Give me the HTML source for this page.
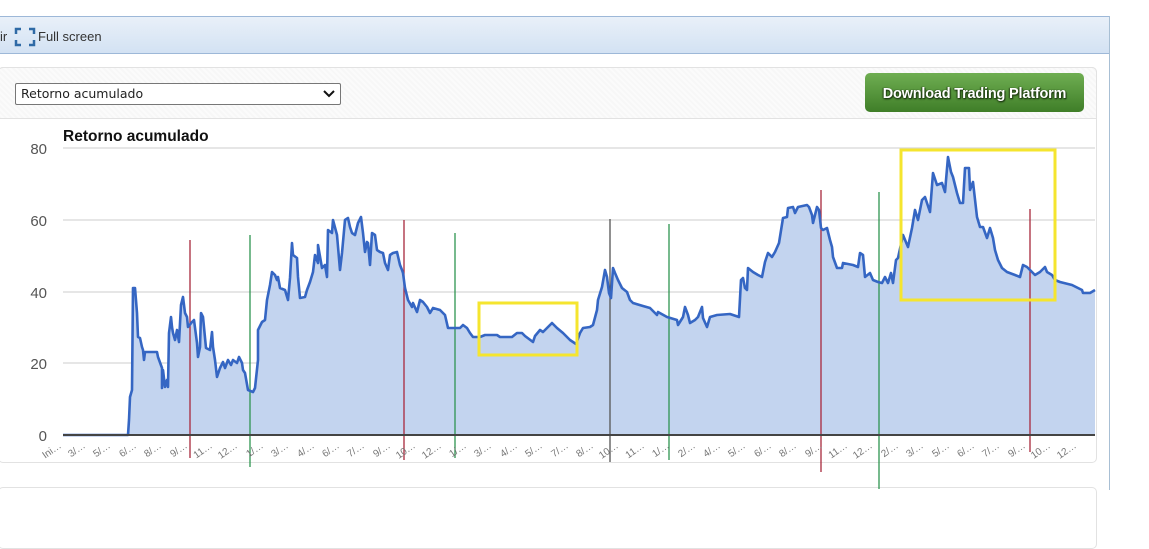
<!DOCTYPE html>
<html><head><meta charset="utf-8"><style>
html,body{margin:0;padding:0;background:#fff;width:1149px;height:527px;overflow:hidden;font-family:"Liberation Sans",sans-serif}
.abs{position:absolute}
#bar{left:-2px;top:16px;width:1110px;height:36px;border:1px solid #9db8d8;background:linear-gradient(#e9f0f9,#d3e2f3)}
#rline{left:1109px;top:16px;width:1px;height:474px;background:#a8bfd4}
#panel{left:-2px;top:67px;width:1097px;height:394px;border:1px solid #e2e2e2;border-radius:5px;background:#fff}
#phead{left:-2px;top:67px;width:1097px;height:50px;border:1px solid #e2e2e2;border-radius:5px 5px 0 0;background:repeating-linear-gradient(45deg,#f7f7f7 0 2px,#fbfbfb 2px 4px)}
#panel2{left:-2px;top:487px;width:1097px;height:60px;border:1px solid #e2e2e2;border-radius:5px;background:#fff}
#sel{left:15px;top:83px;border:1px solid #777;border-radius:2px;background:#fff;font-family:"DejaVu Sans",sans-serif;font-size:12.5px;color:#222;line-height:20px;padding-left:5px;box-sizing:border-box;width:326px;height:22px}
#btn{left:865px;top:73px;width:219px;height:39px;border-radius:5px;background:linear-gradient(#6fae52,#3f7e28);color:#fff;font-weight:bold;font-size:14.5px;line-height:42px;text-align:center;text-shadow:1px 1px 1px #1f3d12,-1px 0 1px #2a4d18,0 1px 2px #1a3310;letter-spacing:-0.2px}
</style></head><body>
<div id="bar" class="abs"></div>
<div id="rline" class="abs"></div>
<div class="abs" style="left:0;top:29px;font-size:13px;color:#333">ir</div>
<svg class="abs" style="left:14px;top:26px" width="22" height="22" viewBox="0 0 22 22">
<path d="M2 8V3h5M15 3h5v5M20 14v5h-5M7 19H2v-5" fill="none" stroke="#2f6aa6" stroke-width="2.5"/>
</svg>
<div class="abs" style="left:38px;top:29px;font-size:13px;color:#333">Full screen</div>
<div id="panel" class="abs"></div>
<div id="phead" class="abs"></div>
<div id="panel2" class="abs"></div>
<div id="sel" class="abs">Retorno acumulado</div>
<svg class="abs" style="left:322px;top:88px" width="14" height="12" viewBox="0 0 14 12"><path d="M2 3l5 5 5-5" fill="none" stroke="#111" stroke-width="2"/></svg>
<div id="btn" class="abs">Download Trading Platform</div>

<svg class="abs" style="left:0;top:0" width="1149" height="527" viewBox="0 0 1149 527">
<text x="63" y="141" font-size="15.5" font-weight="bold" fill="#111" font-family="Liberation Sans">Retorno acumulado</text>
<g stroke="#d6d6d6" stroke-width="1.3">
<line x1="63" y1="148" x2="1095" y2="148"/>
<line x1="63" y1="220" x2="1095" y2="220"/>
<line x1="63" y1="292" x2="1095" y2="292"/>
<line x1="63" y1="363" x2="1095" y2="363"/>
</g>
<g font-size="15" fill="#555" text-anchor="end" font-family="Liberation Sans">
<text x="47" y="154">80</text>
<text x="47" y="226">60</text>
<text x="47" y="298">40</text>
<text x="47" y="369">20</text>
<text x="47" y="441">0</text>
</g>
<polygon fill="#c3d4ef" points="63,435 128,435 129,420 130,397 132,390 133,288 135,288 137,313 138,337 140,338 142,347 143,350 144,360 145,352 147,352 157,352 158,357 162,368 162,388 163,370 165,387 167,380 168,387 169,333 171,317 172,327 173,333 175,340 177,330 179,342 181,305 183,297 185,313 187,317 188,327 192,322 194,320 197,343 198,357 200,347 201,313 203,317 206,348 210,350 212,332 213,347 215,360 217,377 220,368 223,362 225,368 228,360 231,365 233,360 237,363 239,357 242,363 243,370 245,373 248,390 253,392 255,388 258,360 258,330 262,322 265,320 267,300 270,285 272,272 275,275 277,280 278,277 280,288 285,290 288,300 290,278 292,243 293,255 297,258 298,277 300,298 305,297 307,290 310,282 313,272 315,255 318,263 318,245 322,268 325,265 327,277 328,230 332,233 333,220 337,235 340,270 342,253 345,220 348,218 350,227 352,233 355,235 358,223 361,217 363,233 365,252 367,242 368,243 370,265 372,233 375,235 377,250 380,252 383,253 385,263 388,270 390,255 393,253 397,252 400,265 402,270 403,273 405,288 408,300 412,307 413,303 417,312 420,300 423,302 427,307 430,313 433,308 440,310 445,315 448,328 460,328 463,325 467,328 470,333 473,337 480,337 485,335 497,335 500,337 512,337 517,333 522,333 525,336 533,342 535,336 540,330 543,332 548,327 552,323 557,328 563,333 570,340 576,344 580,333 583,328 590,327 593,325 597,310 598,300 602,287 605,270 607,277 609,293 611,298 613,268 615,273 618,280 622,288 627,292 630,300 633,303 643,306 650,308 657,315 658,312 667,317 677,320 678,325 683,317 685,307 688,315 690,323 695,320 698,317 702,307 703,318 707,327 710,317 717,315 730,314 739,317 741,280 743,278 745,288 747,290 748,268 753,272 758,275 762,277 765,262 768,253 772,257 775,252 779,243 783,218 787,217 788,208 793,207 795,213 798,207 807,205 809,207 812,215 813,223 817,207 819,210 821,228 823,230 827,228 830,240 832,247 833,257 837,268 842,268 843,263 853,265 858,267 860,253 863,255 865,277 870,273 873,280 878,282 882,283 885,277 888,283 891,273 893,283 896,260 898,258 903,235 908,247 912,228 915,210 918,220 922,200 925,197 930,212 933,173 937,185 942,183 945,192 948,157 951,172 953,177 957,193 960,203 963,203 965,168 969,168 970,190 973,182 977,217 980,227 983,227 987,238 990,228 993,238 995,250 998,260 1002,268 1007,272 1015,275 1020,277 1023,265 1027,267 1032,272 1035,275 1040,272 1045,267 1047,272 1052,275 1055,280 1060,282 1072,285 1082,290 1083,293 1090,293 1095,290 1095,435"/>
<g stroke-width="1.3">
<line x1="190" y1="240" x2="190" y2="458" stroke="#a8283c"/>
<line x1="250" y1="235" x2="250" y2="467" stroke="#2e9450"/>
<line x1="404" y1="220" x2="404" y2="460" stroke="#a8283c"/>
<line x1="455" y1="233" x2="455" y2="458" stroke="#2e9450"/>
<line x1="610" y1="219" x2="610" y2="462" stroke="#555"/>
<line x1="669" y1="224" x2="669" y2="460" stroke="#2e9450"/>
<line x1="821" y1="190" x2="821" y2="472" stroke="#a8283c"/>
<line x1="879" y1="192" x2="879" y2="489" stroke="#2e9450"/>
<line x1="1030" y1="209" x2="1030" y2="452" stroke="#a8283c"/>
</g>
<polyline fill="none" stroke="#3566c3" stroke-width="2.6" stroke-linejoin="round" points="63,435 128,435 129,420 130,397 132,390 133,288 135,288 137,313 138,337 140,338 142,347 143,350 144,360 145,352 147,352 157,352 158,357 162,368 162,388 163,370 165,387 167,380 168,387 169,333 171,317 172,327 173,333 175,340 177,330 179,342 181,305 183,297 185,313 187,317 188,327 192,322 194,320 197,343 198,357 200,347 201,313 203,317 206,348 210,350 212,332 213,347 215,360 217,377 220,368 223,362 225,368 228,360 231,365 233,360 237,363 239,357 242,363 243,370 245,373 248,390 253,392 255,388 258,360 258,330 262,322 265,320 267,300 270,285 272,272 275,275 277,280 278,277 280,288 285,290 288,300 290,278 292,243 293,255 297,258 298,277 300,298 305,297 307,290 310,282 313,272 315,255 318,263 318,245 322,268 325,265 327,277 328,230 332,233 333,220 337,235 340,270 342,253 345,220 348,218 350,227 352,233 355,235 358,223 361,217 363,233 365,252 367,242 368,243 370,265 372,233 375,235 377,250 380,252 383,253 385,263 388,270 390,255 393,253 397,252 400,265 402,270 403,273 405,288 408,300 412,307 413,303 417,312 420,300 423,302 427,307 430,313 433,308 440,310 445,315 448,328 460,328 463,325 467,328 470,333 473,337 480,337 485,335 497,335 500,337 512,337 517,333 522,333 525,336 533,342 535,336 540,330 543,332 548,327 552,323 557,328 563,333 570,340 576,344 580,333 583,328 590,327 593,325 597,310 598,300 602,287 605,270 607,277 609,293 611,298 613,268 615,273 618,280 622,288 627,292 630,300 633,303 643,306 650,308 657,315 658,312 667,317 677,320 678,325 683,317 685,307 688,315 690,323 695,320 698,317 702,307 703,318 707,327 710,317 717,315 730,314 739,317 741,280 743,278 745,288 747,290 748,268 753,272 758,275 762,277 765,262 768,253 772,257 775,252 779,243 783,218 787,217 788,208 793,207 795,213 798,207 807,205 809,207 812,215 813,223 817,207 819,210 821,228 823,230 827,228 830,240 832,247 833,257 837,268 842,268 843,263 853,265 858,267 860,253 863,255 865,277 870,273 873,280 878,282 882,283 885,277 888,283 891,273 893,283 896,260 898,258 903,235 908,247 912,228 915,210 918,220 922,200 925,197 930,212 933,173 937,185 942,183 945,192 948,157 951,172 953,177 957,193 960,203 963,203 965,168 969,168 970,190 973,182 977,217 980,227 983,227 987,238 990,228 993,238 995,250 998,260 1002,268 1007,272 1015,275 1020,277 1023,265 1027,267 1032,272 1035,275 1040,272 1045,267 1047,272 1052,275 1055,280 1060,282 1072,285 1082,290 1083,293 1090,293 1095,290"/>
<line x1="63" y1="435" x2="1095" y2="435" stroke="#444" stroke-width="2"/>
<g fill="none" stroke="#f5e52e" stroke-width="3">
<rect x="479" y="303" width="98" height="52"/>
<rect x="901" y="150" width="154" height="150"/>
</g>
<g font-size="10" fill="#777" text-anchor="end" font-family="Liberation Sans">
<text transform="translate(62,447) rotate(-35)">Ini…</text>
<text transform="translate(86,447) rotate(-35)">3/…</text>
<text transform="translate(111,447) rotate(-35)">5/…</text>
<text transform="translate(137,447) rotate(-35)">6/…</text>
<text transform="translate(162,447) rotate(-35)">8/…</text>
<text transform="translate(188,447) rotate(-35)">9/…</text>
<text transform="translate(213,447) rotate(-35)">11…</text>
<text transform="translate(238,447) rotate(-35)">12…</text>
<text transform="translate(264,447) rotate(-35)">1/…</text>
<text transform="translate(289,447) rotate(-35)">3/…</text>
<text transform="translate(315,447) rotate(-35)">4/…</text>
<text transform="translate(340,447) rotate(-35)">6/…</text>
<text transform="translate(365,447) rotate(-35)">7/…</text>
<text transform="translate(391,447) rotate(-35)">9/…</text>
<text transform="translate(416,447) rotate(-35)">10…</text>
<text transform="translate(442,447) rotate(-35)">12…</text>
<text transform="translate(467,447) rotate(-35)">1/…</text>
<text transform="translate(492,447) rotate(-35)">3/…</text>
<text transform="translate(518,447) rotate(-35)">4/…</text>
<text transform="translate(543,447) rotate(-35)">5/…</text>
<text transform="translate(569,447) rotate(-35)">7/…</text>
<text transform="translate(594,447) rotate(-35)">8/…</text>
<text transform="translate(619,447) rotate(-35)">10…</text>
<text transform="translate(645,447) rotate(-35)">11…</text>
<text transform="translate(670,447) rotate(-35)">1/…</text>
<text transform="translate(696,447) rotate(-35)">2/…</text>
<text transform="translate(721,447) rotate(-35)">4/…</text>
<text transform="translate(746,447) rotate(-35)">5/…</text>
<text transform="translate(772,447) rotate(-35)">6/…</text>
<text transform="translate(797,447) rotate(-35)">8/…</text>
<text transform="translate(823,447) rotate(-35)">9/…</text>
<text transform="translate(848,447) rotate(-35)">11…</text>
<text transform="translate(873,447) rotate(-35)">12…</text>
<text transform="translate(899,447) rotate(-35)">2/…</text>
<text transform="translate(924,447) rotate(-35)">3/…</text>
<text transform="translate(950,447) rotate(-35)">5/…</text>
<text transform="translate(975,447) rotate(-35)">6/…</text>
<text transform="translate(1000,447) rotate(-35)">7/…</text>
<text transform="translate(1026,447) rotate(-35)">9/…</text>
<text transform="translate(1051,447) rotate(-35)">10…</text>
<text transform="translate(1077,447) rotate(-35)">12…</text>
</g>
</svg>
</body></html>
